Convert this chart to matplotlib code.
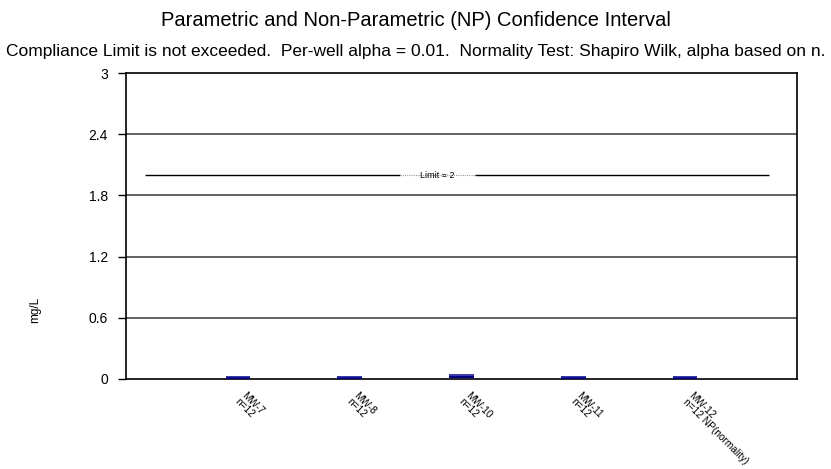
import matplotlib.pyplot as plt
import matplotlib.transforms as mtransforms
import numpy as np

plt.rcParams['font.family'] = ['Liberation Sans', 'DejaVu Sans']

wells = ["MW-7", "MW-8", "MW-10", "MW-11", "MW-12"]
counts = ["n=12", "n=12", "n=12", "n=12", "n=12 NP(normality)"]
lower = [0.01, 0.01, 0.02, 0.01, 0.01]
upper = [0.02, 0.02, 0.04, 0.02, 0.02]
limit = 2
yticks = [0, 0.6, 1.2, 1.8, 2.4, 3]

fig = plt.figure(figsize=(8.31, 4.69), dpi=100)
ax = fig.add_axes([0.1516, 0.1919, 0.8074, 0.6524])

x = np.arange(1, len(wells) + 1)

# grid
for yv in yticks[1:-1]:
    ax.axhline(yv, color="#555555", lw=1.3, zorder=1)

# confidence intervals
ax.hlines(lower, x - 0.11, x + 0.11, color="#000080", lw=1.6, zorder=3)
ax.hlines(upper, x - 0.11, x + 0.11, color="#1a1a9a", lw=1.2, zorder=3)

# limit line with label
ax.hlines(limit, 0.17, 2.45, color="black", lw=1, zorder=2)
ax.hlines(limit, 3.12, 5.75, color="black", lw=1, zorder=2)
ax.hlines(limit, 2.45, 3.12, color="#999999", lw=0.8, linestyles=(0, (1, 1)), zorder=2)
ax.text(2.78, limit, "Limit = 2", fontsize=6.5, ha="center", va="center", zorder=4)

ax.set_xlim(0, 6)
ax.set_ylim(0, 3)
ax.set_yticks(yticks)
ax.set_yticklabels(["0", "0.6", "1.2", "1.8", "2.4", "3"], fontsize=10)
ax.tick_params(axis="y", length=6, width=1, pad=7)
ax.set_xticks(x)
ax.set_xticklabels([w + "\n" + c for w, c in zip(wells, counts)], rotation=-45,
                   ha="left", va="top", rotation_mode="anchor", fontsize=7.3,
                   linespacing=0.9)
ax.tick_params(axis="x", length=0, pad=8)
shift = mtransforms.ScaledTranslation(0.09, 0, fig.dpi_scale_trans)
for lbl in ax.get_xticklabels():
    lbl.set_transform(lbl.get_transform() + shift)
for s in ax.spines.values():
    s.set_linewidth(1.2)

fig.text(0.5, 0.957, "Parametric and Non-Parametric (NP) Confidence Interval",
         ha="center", va="center", fontsize=14.5)
fig.text(0.5, 0.891, "Compliance Limit is not exceeded.  Per-well alpha = 0.01.  Normality Test: Shapiro Wilk, alpha based on n.",
         ha="center", va="center", fontsize=12.5)
fig.text(0.042, 0.34, "mg/L", rotation=90, ha="center", va="center", fontsize=8.5)

fig.savefig("out.png", dpi=100)
